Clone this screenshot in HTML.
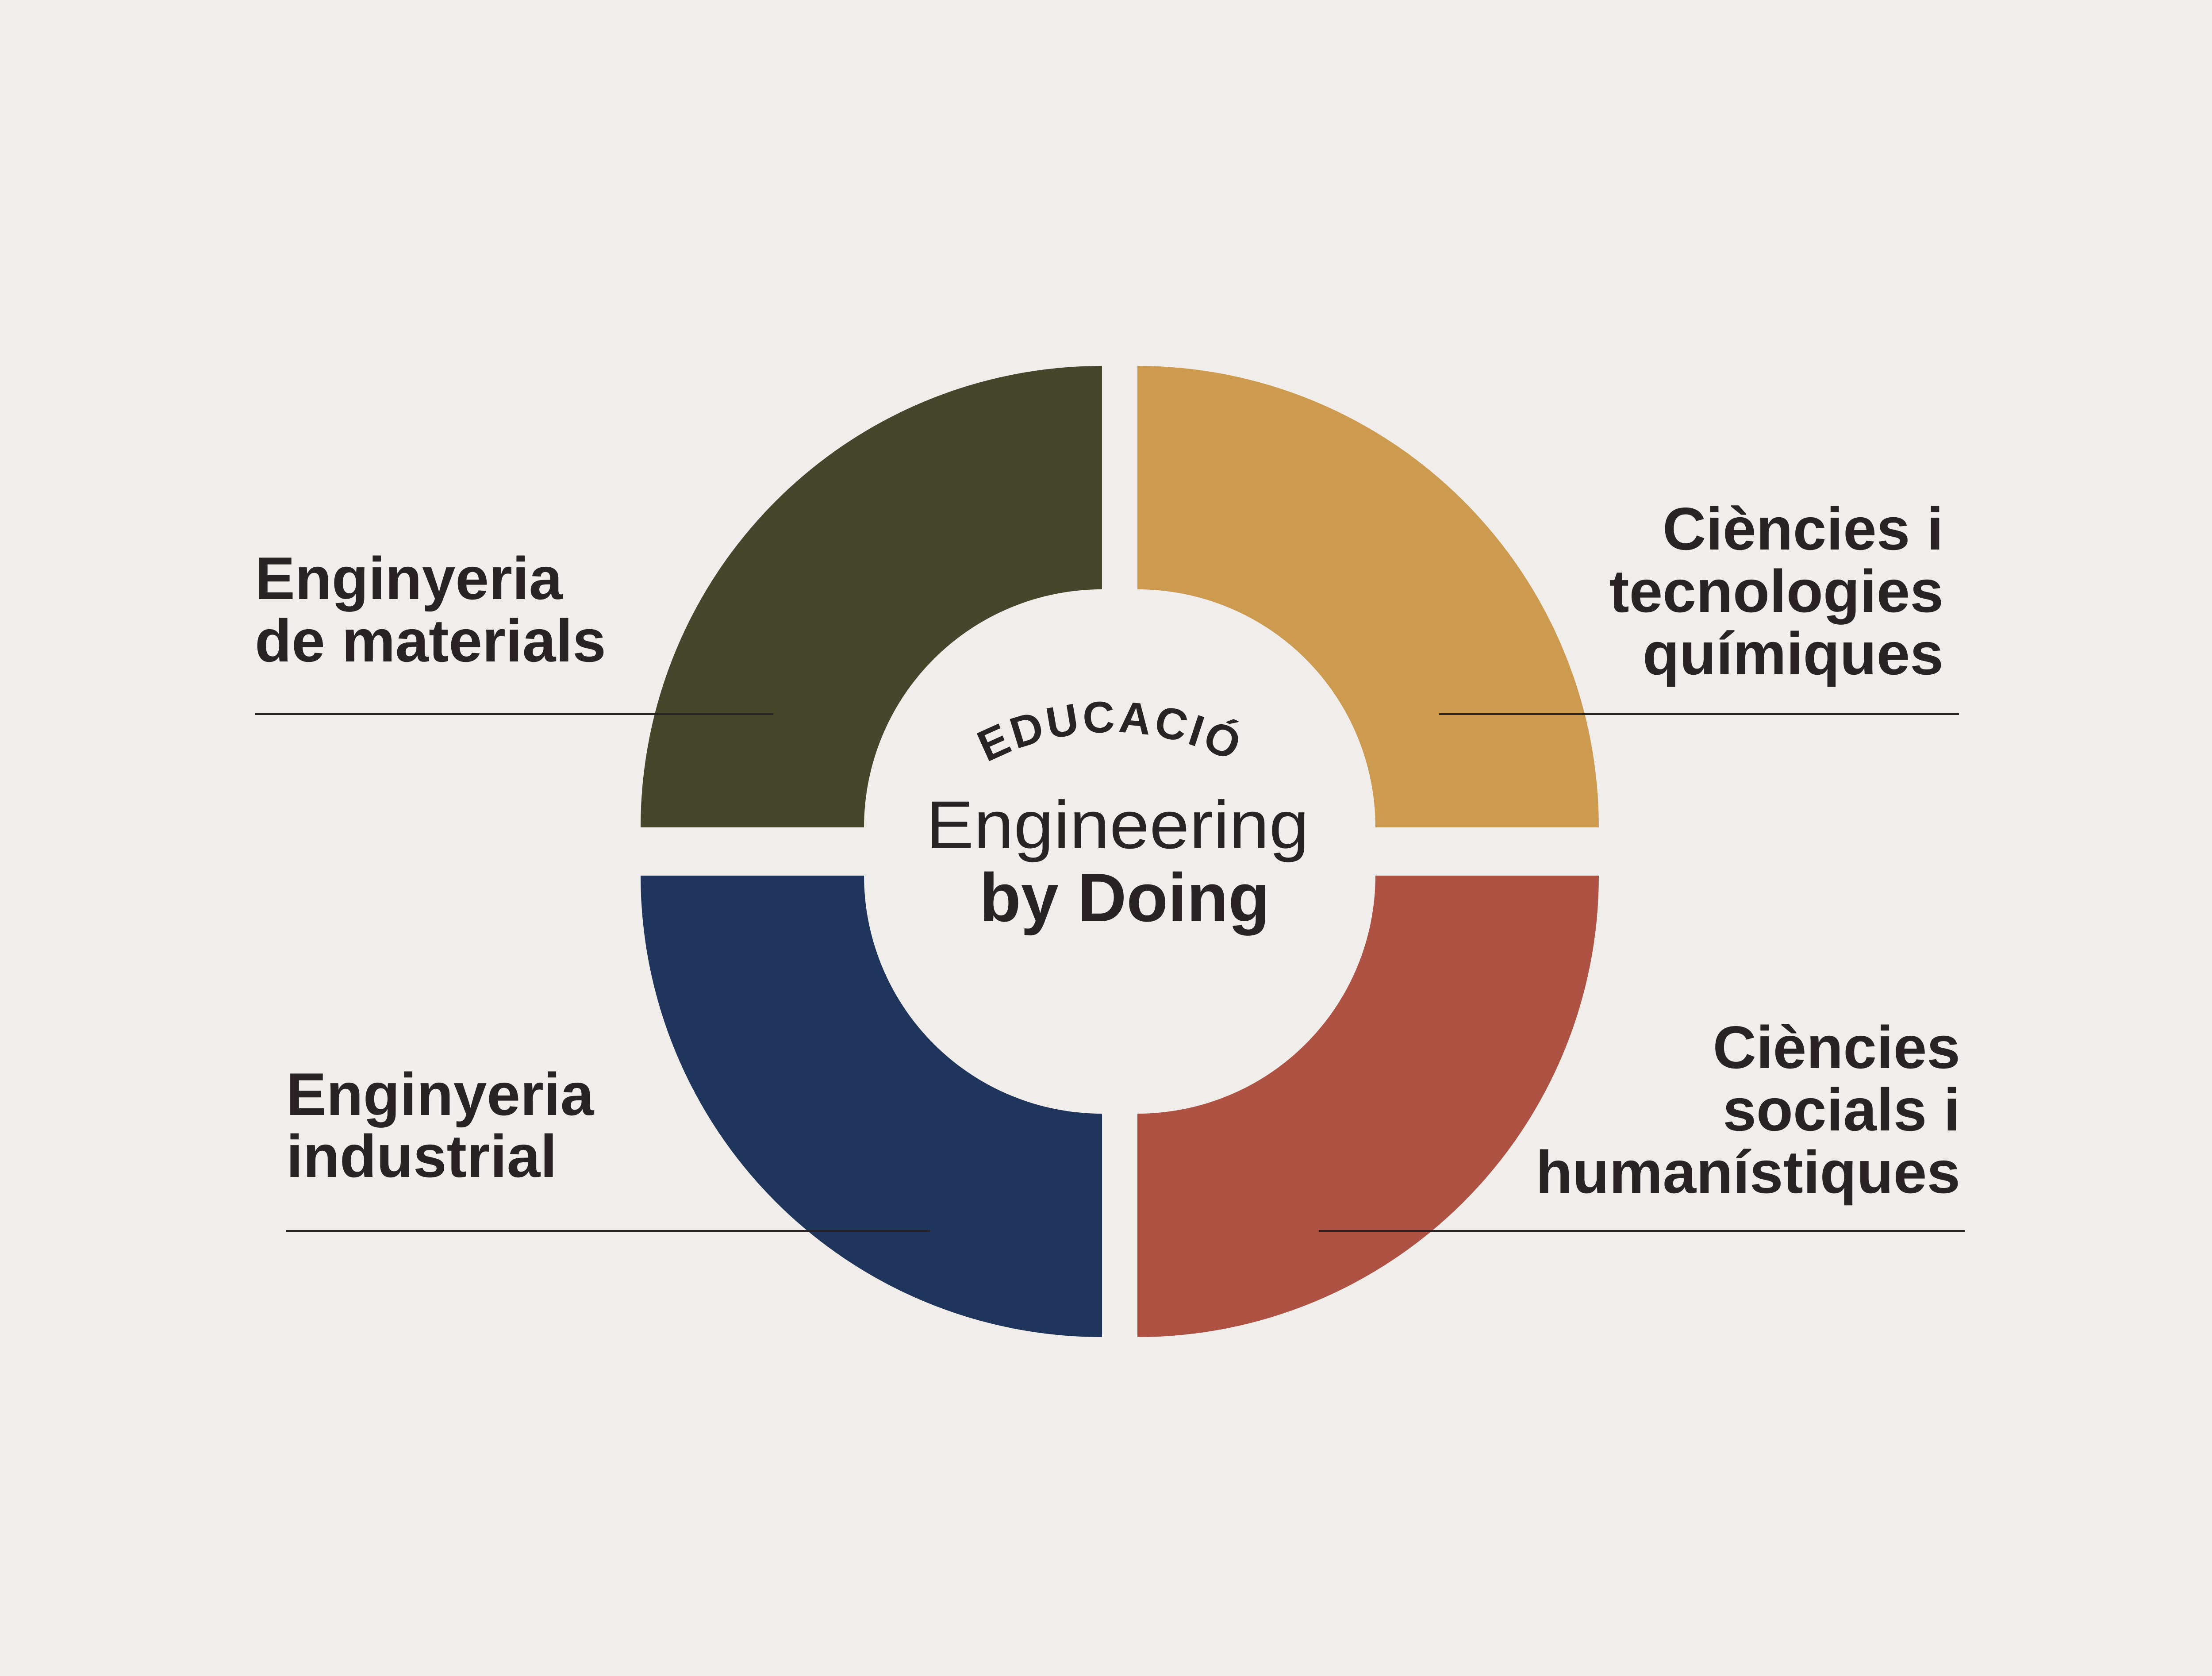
<!DOCTYPE html>
<html><head><meta charset="utf-8"><style>
html,body{margin:0;padding:0;background:#f0edea;}
svg{display:block}
text{font-family:"Liberation Sans",sans-serif;fill:#2a2326}
</style></head><body>
<svg width="5020" height="3788" viewBox="0 0 5020 3788" xmlns="http://www.w3.org/2000/svg">
<rect width="5020" height="3788" fill="#f0edea"/>
<path d="M1448,1870 A1043,1043 0 0 1 2491,827 L2491,1332 A538,538 0 0 0 1953,1870 Z" fill="#46462d"/>
<path d="M2571,827 A1043,1043 0 0 1 3614,1870 L3109,1870 A538,538 0 0 0 2571,1332 Z" fill="#cc9b50"/>
<path d="M1448,1979 A1043,1043 0 0 0 2491,3022 L2491,2517 A538,538 0 0 1 1953,1979 Z" fill="#1f355c"/>
<path d="M3614,1979 A1043,1043 0 0 1 2571,3022 L2571,2517 A538,538 0 0 0 3109,1979 Z" fill="#ae5244"/>

<g stroke="#2a2326" stroke-width="4">
<line x1="576" y1="1614" x2="1748" y2="1614"/>
<line x1="3253" y1="1614" x2="4428" y2="1614"/>
<line x1="647" y1="2782" x2="2103" y2="2782"/>
<line x1="2981" y1="2782" x2="4441" y2="2782"/>
</g>

<g font-weight="bold" font-size="136">
<text x="576" y="1354">Enginyeria</text>
<text x="576" y="1495">de materials</text>
<text x="4393" y="1242" text-anchor="end">Ciències i</text>
<text x="4393" y="1383" text-anchor="end">tecnologies</text>
<text x="4393" y="1524" text-anchor="end">químiques</text>
<text x="647" y="2520">Enginyeria</text>
<text x="647" y="2660">industrial</text>
<text x="4431" y="2414" text-anchor="end">Ciències</text>
<text x="4431" y="2555" text-anchor="end">socials i</text>
<text x="4431" y="2696" text-anchor="end">humanístiques</text>
</g>

<defs><path id="arc" d="M1910,2255 A600,600 0 0 1 3110,2255"/></defs>
<text font-size="100" font-weight="bold" letter-spacing="6"><textPath href="#arc" startOffset="50%" text-anchor="middle">EDUCACIÓ</textPath></text>

<text x="2093" y="1917" font-size="153" textLength="866" lengthAdjust="spacingAndGlyphs" style="font-weight:normal">Engineering</text>
<text x="2214" y="2082" font-size="155" font-weight="bold" textLength="656" lengthAdjust="spacingAndGlyphs">by Doing</text>
</svg>
</body></html>
